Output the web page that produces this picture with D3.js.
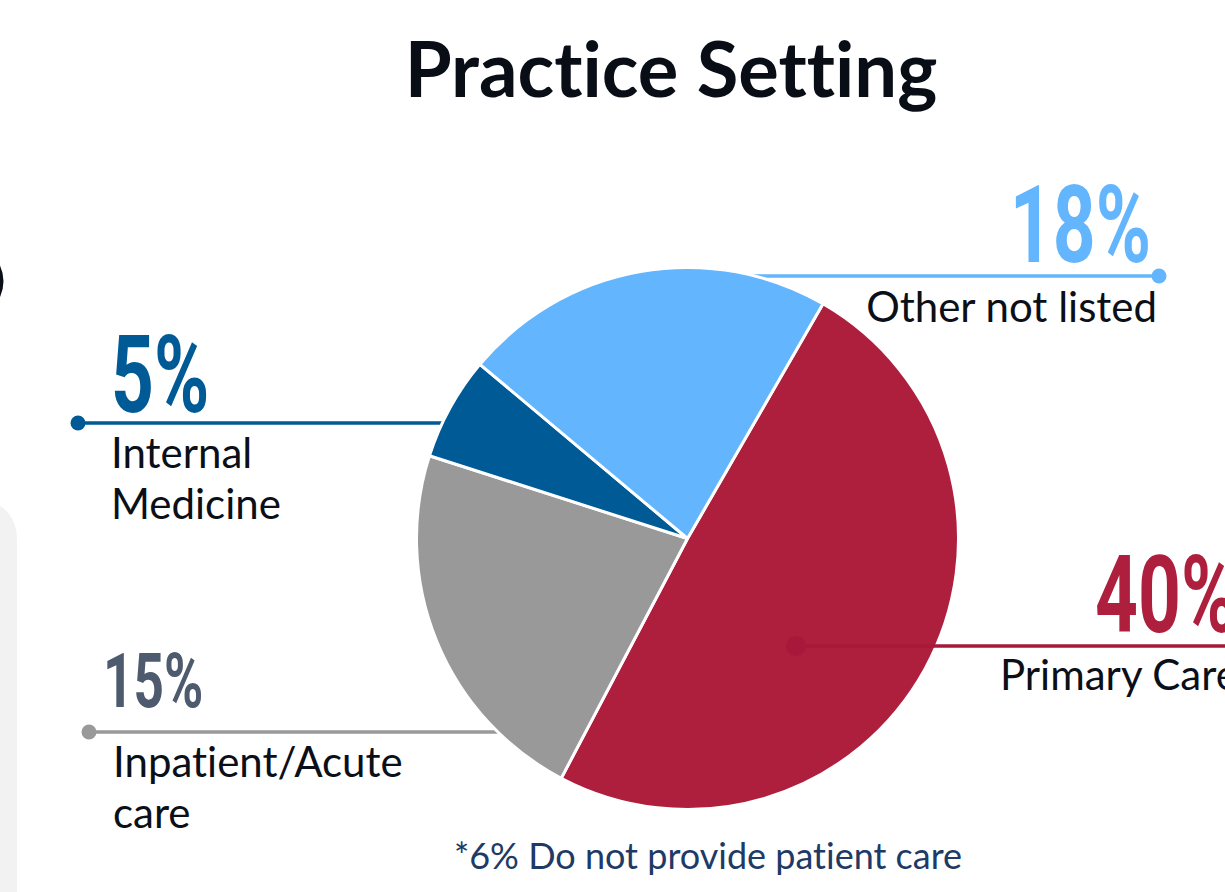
<!DOCTYPE html>
<html>
<head>
<meta charset="utf-8">
<script src="https://cdn.jsdelivr.net/npm/d3@7"></script>
<style>
  html, body { margin: 0; padding: 0; background: #fff; }
  svg { display: block; }
  text { font-variant-ligatures: none; font-feature-settings: "liga" 0; }
</style>
</head>
<body>
<svg id="chart" width="1225" height="892"></svg>
<script>

// ===========================//
// DATA
// ===========================//

// slices in clockwise order, starting from about 1 o'clock
var categories = ["Primary Care", "Inpatient/Acute care", "Internal Medicine", "Other not listed"]
// slice sizes as they are drawn in the pie
var sliceValues = [40, 18, 5, 18]
// percentages printed next to each slice
var labelPct = [40, 15, 5, 18]
var footnote = "*6% Do not provide patient care"

// ===========================//
// COLORS
// ===========================//

var color = d3.scaleOrdinal()
  .domain(categories)
  .range(["#AE1F3D", "#999999", "#005A96", "#63B5FD"])

// color of the big number
var numColor = d3.scaleOrdinal()
  .domain(categories)
  .range(["#AE1F3D", "#4E5B6E", "#005A96", "#63B5FD"])

// ===========================//
// LABEL LAYOUT
// ===========================//

// dot = where the leader line ends, nx/ny = big number, tx/ty = text lines
var layout = {
  "Primary Care":         {lineY: 646, dotX: 796, lineTo: 1225, dotR: 10, over: true,
                           nx: 1095, ny: 632, nsize: 107, anchor: "start",
                           tx: 1000, ty: 690, lines: ["Primary Care"]},
  "Inpatient/Acute care": {lineY: 732, dotX: 89, lineTo: 687, dotR: 7.5, over: false,
                           nx: 103, ny: 707, nsize: 76, anchor: "start",
                           tx: 113, ty: 777, lines: ["Inpatient/Acute", "care"]},
  "Internal Medicine":    {lineY: 423, dotX: 78, lineTo: 687, dotR: 7.5, over: false,
                           nx: 111, ny: 412, nsize: 107, anchor: "start",
                           tx: 111, ty: 468, lines: ["Internal", "Medicine"]},
  "Other not listed":     {lineY: 276, dotX: 1159, lineTo: 687, dotR: 7.5, over: false,
                           nx: 1151, ny: 262, nsize: 107, anchor: "end",
                           tx: 1157, ty: 322, lines: ["Other not listed"], tanchor: "end"}
}

var svg = d3.select("#chart")
var cx = 687.5, cy = 538.5, radius = 271

// ===========================//
// LEFT EDGE DECORATION (cropped page)
// ===========================//

svg.append("rect")
  .attr("x", -40).attr("y", 503)
  .attr("width", 57).attr("height", 460)
  .attr("rx", 36)
  .attr("fill", "#F2F2F2")

svg.append("path")
  .attr("d", "M-3,264 Q6,281 -3,299")
  .attr("fill", "none")
  .attr("stroke", "#0B0F17")
  .attr("stroke-width", 4)

// ===========================//
// TITLE
// ===========================//

svg.append("text")
  .attr("x", 671).attr("y", 97)
  .attr("text-anchor", "middle")
  .style("font-family", "Lato, 'Noto Sans', sans-serif")
  .style("font-weight", 700)
  .style("font-size", "76px")
  .attr("fill", "#080D16")
  .text("Practice Setting")

// ===========================//
// LEADER LINES BEHIND THE PIE
// ===========================//

function drawLine(g, name, stroke) {
  var L = layout[name]
  g.append("line")
    .attr("x1", L.dotX).attr("x2", L.lineTo)
    .attr("y1", L.lineY).attr("y2", L.lineY)
    .attr("stroke", stroke)
    .attr("stroke-width", 3.5)
  g.append("circle")
    .attr("cx", L.dotX).attr("cy", L.lineY)
    .attr("r", L.dotR)
    .attr("fill", stroke)
}

var under = svg.append("g")
categories.forEach(function(c){
  if(!layout[c].over) drawLine(under, c, color(c))
})

// ===========================//
// PIE
// ===========================//

var pie = d3.pie()
  .sort(null)
  .value(function(d){ return d.value })
  .startAngle(Math.PI / 6)
  .endAngle(Math.PI / 6 + 2 * Math.PI)

var arc = d3.arc().innerRadius(0).outerRadius(radius)

var slices = categories.map(function(c, i){ return {name: c, value: sliceValues[i]} })

svg.append("g")
  .attr("transform", "translate(" + cx + "," + cy + ")")
  .selectAll("path")
  .data(pie(slices))
  .enter()
  .append("path")
    .attr("d", arc)
    .attr("fill", function(d){ return color(d.data.name) })
    .attr("stroke", "#fff")
    .attr("stroke-width", 3)
    .attr("stroke-linejoin", "round")

// red leader line sits on top of its slice, a touch darker
var over = svg.append("g")
categories.forEach(function(c){
  if(layout[c].over) drawLine(over, c, "#A8183A")
})

// ===========================//
// LABELS
// ===========================//

categories.forEach(function(c, i){
  var L = layout[c]

  // big condensed number
  svg.append("text")
    .attr("transform", "translate(" + L.nx + "," + L.ny + ") scale(0.7,1)")
    .attr("text-anchor", L.anchor)
    .style("font-family", "Roboto, 'Noto Sans', sans-serif")
    .style("font-weight", 700)
    .style("font-size", L.nsize + "px")
    .attr("fill", numColor(c))
    .text(labelPct[i] + "%")

  // category name
  var t = svg.append("text")
    .attr("text-anchor", L.tanchor || "start")
    .style("font-family", "Lato, 'Noto Sans', sans-serif")
    .style("font-size", "42px")
    .attr("fill", "#0B0F17")
  L.lines.forEach(function(line, k){
    t.append("tspan")
      .attr("x", L.tx)
      .attr("y", L.ty + k * 51)
      .text(line)
  })
})

// ===========================//
// FOOTNOTE
// ===========================//

svg.append("text")
  .attr("x", 708).attr("y", 869)
  .attr("text-anchor", "middle")
  .style("font-family", "Lato, 'Noto Sans', sans-serif")
  .style("font-size", "36px")
  .attr("fill", "#1E3A66")
  .text(footnote)

</script>
</body>
</html>
